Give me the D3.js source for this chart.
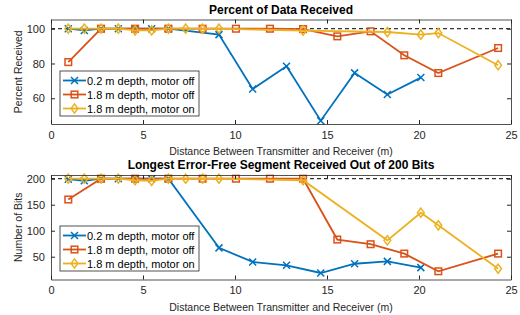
<!DOCTYPE html>
<html>
<head>
<meta charset="utf-8">
<script src="https://cdn.jsdelivr.net/npm/d3@7"></script>
<style>
  body { margin: 0; background: #fff; }
  svg { font-family: "Liberation Sans", Arial, sans-serif; }
  .axis path, .axis line { stroke: #262626; }
  .axis text { fill: #262626; font-size: 11px; }
</style>
</head>
<body>
<svg id="chart" width="520" height="315"></svg>
<script>
// distances (m)
const blueX = [0.94, 1.81, 2.72, 3.66, 4.57, 5.47, 6.38, 9.13, 10.96, 12.8, 14.66, 16.5, 18.28, 20.1];
const orangeX = [0.94, 2.72, 4.57, 6.38, 8.24, 10.05, 11.9, 13.7, 15.56, 17.37, 19.2, 21.05, 24.3];
const yellowX = [0.94, 1.81, 2.72, 3.66, 4.57, 5.47, 6.38, 7.32, 8.24, 9.13, 13.7, 18.28, 20.1, 21.05, 24.3];

// percent of data received
const pctBlue = [100, 99, 100, 100, 100, 100, 100, 96.6, 65.3, 78.4, 47.1, 74.6, 62.2, 71.9];
const pctOrange = [80.8, 100, 100, 100, 100, 100, 100, 99.8, 95.6, 98.5, 84.7, 74.5, 88.9];
const pctYellow = [100, 100, 100, 100, 99, 99, 100, 100, 100, 100, 98.9, 98.1, 96.6, 97.5, 79];

// longest error-free segment (bits)
const bitsBlue = [199, 196, 200, 200, 200, 200, 200, 67, 40, 33.5, 18.7, 36.5, 41, 29];
const bitsOrange = [160, 200, 200, 200, 200, 200, 200, 200, 83, 74, 56, 22, 56];
const bitsYellow = [200, 200, 200, 200, 197, 196, 200, 200, 200, 200, 197, 81.5, 134.6, 110.4, 27];

const legendNames = ["0.2 m depth, motor off", "1.8 m depth, motor off", "1.8 m depth, motor on"];
const xTicks = [0, 5, 10, 15, 20, 25];
const colors = ["#0072BD", "#D95319", "#EDB120"];
const markers = ["x", "square", "diamond"];

const svg = d3.select("#chart");
const left = 51, right = 511;

const x = d3.scaleLinear().domain([0, 25]).range([left, right]);

const drawMarker = (g, type, color) => {
  if (type === "x") {
    g.append("path").attr("d", "M-3.5,-3.5L3.5,3.5M-3.5,3.5L3.5,-3.5")
      .attr("stroke", color).attr("stroke-width", 1.5).attr("fill", "none");
  } else if (type === "square") {
    g.append("rect").attr("x", -3.3).attr("y", -3.3).attr("width", 6.6).attr("height", 6.6)
      .attr("stroke", color).attr("stroke-width", 1.5).attr("fill", "none");
  } else {
    g.append("path").attr("d", "M0,-4.6L3.4,0L0,4.6L-3.4,0Z")
      .attr("stroke", color).attr("stroke-width", 1.5).attr("fill", "none");
  }
};

const drawPanel = p => {
  const y = d3.scaleLinear().domain(p.yDomain).range([p.bottom, p.top]);
  const g = svg.append("g");

  // dashed reference
  g.append("line")
    .attr("x1", left).attr("x2", right)
    .attr("y1", y(p.refLine)).attr("y2", y(p.refLine))
    .attr("stroke", "#000").attr("stroke-width", 1).attr("stroke-dasharray", "4,3");

  const line = d3.line().x(d => x(d[0])).y(d => y(d[1]));
  p.series.forEach((s, i) => {
    const pts = s.xs.map((v, j) => [v, s.ys[j]]);
    g.append("path").attr("d", line(pts))
      .attr("fill", "none").attr("stroke", colors[i]).attr("stroke-width", 1.8);
    pts.forEach(d => {
      const m = g.append("g").attr("transform", `translate(${x(d[0])},${y(d[1])})`);
      drawMarker(m, markers[i], colors[i]);
    });
  });

  // axes with inward ticks on all sides
  const ax = svg.append("g");
  ax.append("g").attr("class", "axis").attr("transform", `translate(0,${p.bottom})`)
    .call(d3.axisBottom(x).tickValues(xTicks).tickSizeInner(-4).tickSizeOuter(0).tickPadding(7));
  ax.append("g").attr("class", "axis").attr("transform", `translate(0,${p.top})`)
    .call(d3.axisTop(x).tickValues(xTicks).tickSizeInner(-4).tickSizeOuter(0).tickFormat(""));
  ax.append("g").attr("class", "axis").attr("transform", `translate(${left},0)`)
    .call(d3.axisLeft(y).tickValues(p.yTicks).tickSizeInner(-4).tickSizeOuter(0).tickPadding(6));
  ax.append("g").attr("class", "axis").attr("transform", `translate(${right},0)`)
    .call(d3.axisRight(y).tickValues(p.yTicks).tickSizeInner(-4).tickSizeOuter(0).tickFormat(""));
  ax.selectAll(".domain").attr("stroke-width", 0.8);

  // titles
  svg.append("text").attr("x", 281).attr("y", p.top - 6)
    .attr("text-anchor", "middle").attr("font-size", 12).attr("font-weight", "bold")
    .attr("fill", "#000").text(p.title);
  svg.append("text").attr("x", 281).attr("y", p.bottom + 31)
    .attr("text-anchor", "middle").attr("font-size", 10.5).attr("fill", "#262626")
    .text("Distance Between Transmitter and Receiver (m)");
  svg.append("text")
    .attr("transform", `translate(22,${(p.top + p.bottom) / 2}) rotate(-90)`)
    .attr("text-anchor", "middle").attr("font-size", 10.5).attr("fill", "#262626")
    .text(p.ylabel);

  // legend
  const lg = svg.append("g").attr("transform", `translate(60,${p.legendTop})`);
  lg.append("rect").attr("width", 139).attr("height", 45)
    .attr("fill", "#fff").attr("stroke", "#262626").attr("stroke-width", 0.8);
  legendNames.forEach((name, i) => {
    const yy = 9.5 + i * 14;
    lg.append("line").attr("x1", 3).attr("x2", 26).attr("y1", yy).attr("y2", yy)
      .attr("stroke", colors[i]).attr("stroke-width", 1.8);
    drawMarker(lg.append("g").attr("transform", `translate(14.5,${yy})`), markers[i], colors[i]);
    lg.append("text").attr("x", 27).attr("y", yy + 4).attr("font-size", 11)
      .attr("fill", "#000").text(name);
  });
};

drawPanel({
  top: 19.5, bottom: 124, yDomain: [45.2, 105.3], yTicks: [60, 80, 100], refLine: 100,
  title: "Percent of Data Received", ylabel: "Percent Received", legendTop: 71,
  series: [
    { xs: blueX, ys: pctBlue },
    { xs: orangeX, ys: pctOrange },
    { xs: yellowX, ys: pctYellow }
  ]
});

drawPanel({
  top: 175, bottom: 279.5, yDomain: [6.2, 207.1], yTicks: [50, 100, 150, 200], refLine: 200,
  title: "Longest Error-Free Segment Received Out of 200 Bits", ylabel: "Number of Bits", legendTop: 226,
  series: [
    { xs: blueX, ys: bitsBlue },
    { xs: orangeX, ys: bitsOrange },
    { xs: yellowX, ys: bitsYellow }
  ]
});
</script>
</body>
</html>
